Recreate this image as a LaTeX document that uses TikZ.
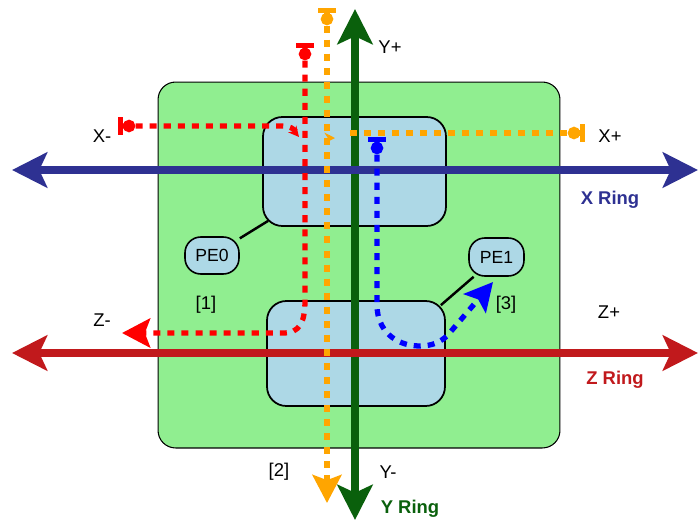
\documentclass[tikz,border=0pt]{standalone}
\usepackage{fontspec}
\setmainfont{Liberation Sans}
\usetikzlibrary{arrows.meta,calc}
\definecolor{chipgreen}{HTML}{90EE90}
\definecolor{routerblue}{HTML}{ADD8E6}
\definecolor{xringcol}{RGB}{46,49,146}
\definecolor{zringcol}{RGB}{193,25,28}
\definecolor{yringcol}{RGB}{10,96,12}
\definecolor{routeorange}{HTML}{FFA500}
\begin{document}
\begin{tikzpicture}[
    x=0.02cm, y=-0.02cm,
    box/.style={draw,rounded corners=11pt,fill=routerblue,line width=1pt,inner sep=0pt},
    pe/.style={draw,rounded corners=9pt,fill=routerblue,line width=0.9pt,inner sep=0pt,font=\fontsize{10}{12}\selectfont},
    lbl/.style={font=\fontsize{10.5}{12}\selectfont},
    ringlbl/.style={font=\bfseries\fontsize{10.5}{12}\selectfont},
    ring/.style={line width=4pt,{Stealth[length=20pt,width=20pt,inset=4.5pt]}-{Stealth[length=20pt,width=20pt,inset=4.5pt]}},
    route/.style={line width=3pt,dash pattern=on 4pt off 4pt},
    tee/.style={{Bar[width=10pt,line width=3pt,sep=-2.5pt]Circle[length=7pt]}-},
    teehead/.style={{Bar[width=10pt,line width=3pt,sep=-2.5pt]Circle[length=7pt]}-{Stealth[length=16pt,width=16.5pt,inset=3pt]}},
    tiny/.style={-{Stealth[length=6pt,width=6pt]}},
    link/.style={line width=1.4pt}
]
\useasboundingbox (0,0) rectangle (699,521);
\node[draw,rounded corners=10pt,fill=chipgreen,line width=0.6pt,minimum width=8.04cm,minimum height=7.32cm] (chip) at (359,265) {};
\node[box,minimum width=3.66cm,minimum height=2.18cm] (rtop) at (354.5,171.5) {};
\node[box,minimum width=3.56cm,minimum height=2.1cm] (rbot) at (356,353.5) {};
\node[pe,minimum width=1.08cm,minimum height=0.74cm] (pe0) at (212,255.5) {PE0};
\node[pe,minimum width=1.1cm,minimum height=0.76cm] (pe1) at (496.5,257) {PE1};
\draw[link] (pe0) -- ($(rtop.south west)+(6,-6)$);
\draw[link] (pe1) -- ($(rbot.north east)+(-5,5)$);
% rings
\coordinate (yn) at (355,9);
\coordinate (ys) at (355,520);
\coordinate (xw) at (12,170);
\coordinate (xe) at (698,170);
\coordinate (zw) at (12,353);
\coordinate (ze) at (698,353);
\draw[ring,yringcol,line width=4.5pt] (ys) -- (yn);
\draw[ring,xringcol] (xw) -- (xe);
\draw[ring,zringcol] (zw) -- (ze);
% labels
\node[lbl] (xminus) at (102,136) {X-};
\node[lbl] (xplus) at (610,136) {X+};
\node[ringlbl,text=xringcol] (xring) at (610,200) {X Ring};
\node[lbl] (zminus) at (102,320) {Z-};
\node[lbl] (zplus) at (609,312) {Z+};
\node[ringlbl,text=zringcol] (zring) at (615,380) {Z Ring};
\node[lbl] (yplus) at (390,47) {Y+};
\node[lbl] (yminus) at (388,472) {Y-};
\node[ringlbl,text=yringcol] (yring) at (410,509) {Y Ring};
\node[lbl] (n1) at (206,305) {[1]};
\node[lbl] (n2) at (279,472) {[2]};
\node[lbl] (n3) at (506,305) {[3]};
% routes
\draw[route,red,tee] (122,126) -- (283,126) .. controls (290,126) and (294,129) .. (296,132);
\draw[route,red,tiny] (294,131) -- (299,137);
\draw[route,red,teehead] (305,47) -- (305,300) .. controls (305,322) and (300,333) .. (283,333) -- (122,333);
\draw[route,routeorange,teehead] (327,12) -- (327,503);
\draw[route,routeorange,tee] (581,133) -- (345,133);
\draw[route,routeorange,tiny] (329,138) -- (335,138);
\draw[route,blue,teehead] (377,141) -- (377,305) .. controls (377,330) and (395,346) .. (420,346) .. controls (432,346) and (440,342) .. (447,336) -- (493,282);
\end{tikzpicture}
\end{document}
